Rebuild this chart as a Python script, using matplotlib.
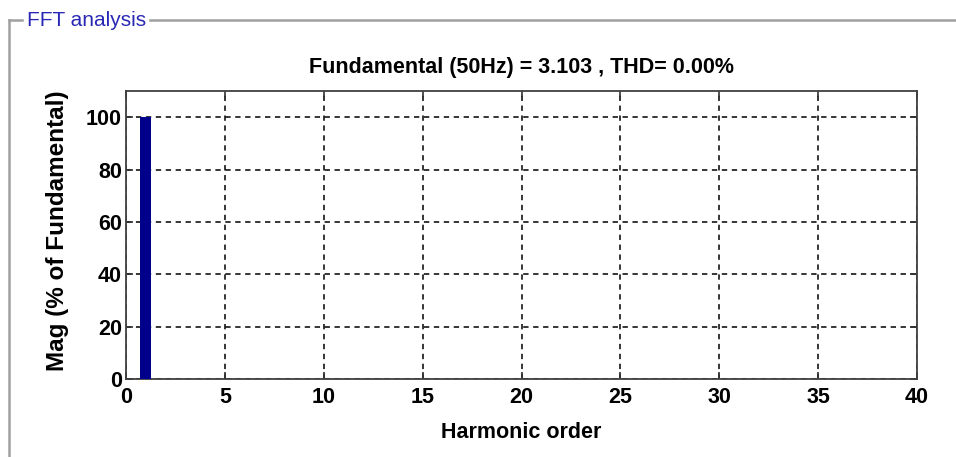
import numpy as np
import matplotlib.pyplot as plt
from matplotlib.lines import Line2D

# harmonic spectrum, % of fundamental
harmonic_order = [1]
mag_pct = [100.0]
fundamental_hz = 50
fundamental_mag = 3.103
thd_pct = 0.00

xticks = [0, 5, 10, 15, 20, 25, 30, 35, 40]
yticks = [0, 20, 40, 60, 80, 100]

plt.rcParams['font.family'] = ['Liberation Sans', 'DejaVu Sans']

fig = plt.figure(figsize=(9.56, 4.57), dpi=100)
ax = fig.add_axes([126/956, 1 - 379/457, (917 - 126)/956, (379 - 91)/457])

ax.bar(harmonic_order, mag_pct, width=0.55, color='#00008b', zorder=3)

ax.set_xlim(0, 40)
ax.set_ylim(0, 110)
ax.set_xticks(xticks)
ax.set_yticks(yticks)
ax.tick_params(direction='in', length=5, width=1.2, top=True, right=True,
               labelsize=15.5, colors='#333333', labelcolor='black')
ax.tick_params(axis='x', pad=6)
ax.tick_params(axis='y', pad=3)
for lbl in ax.get_xticklabels() + ax.get_yticklabels():
    lbl.set_fontweight('bold')
ax.grid(True, color='black', linestyle=(0, (3.5, 3)), linewidth=1.1)
ax.set_axisbelow(True)
for sp in ax.spines.values():
    sp.set_color('#404040')
    sp.set_linewidth(1.3)

ax.set_title('Fundamental (%dHz) = %.3f , THD= %.2f%%' % (fundamental_hz, fundamental_mag, thd_pct),
             fontsize=15.5, fontweight='bold', pad=13)
ax.set_xlabel('Harmonic order', fontsize=15.5, fontweight='bold', labelpad=10)
ax.set_ylabel('Mag (% of Fundamental)', fontsize=17.5, fontweight='heavy', labelpad=0)
ax.yaxis.set_label_coords(-57/791, 0.515)

# panel frame with label
frame_kw = dict(color='#a0a0a0', linewidth=1.8, transform=fig.transFigure)
fig.add_artist(Line2D([9/956, 9/956], [1 - 20/457, 0], **frame_kw))
fig.add_artist(Line2D([9/956, 22/956], [1 - 20/457, 1 - 20/457], **frame_kw))
fig.add_artist(Line2D([150/956, 1], [1 - 20/457, 1 - 20/457], **frame_kw))
fig.text(27/956, 1 - 21/457, 'FFT analysis', color='#2828b4', fontsize=15,
         va='center', ha='left', family=['Liberation Sans Narrow', 'Liberation Sans'])

fig.savefig('out.png', dpi=100)
